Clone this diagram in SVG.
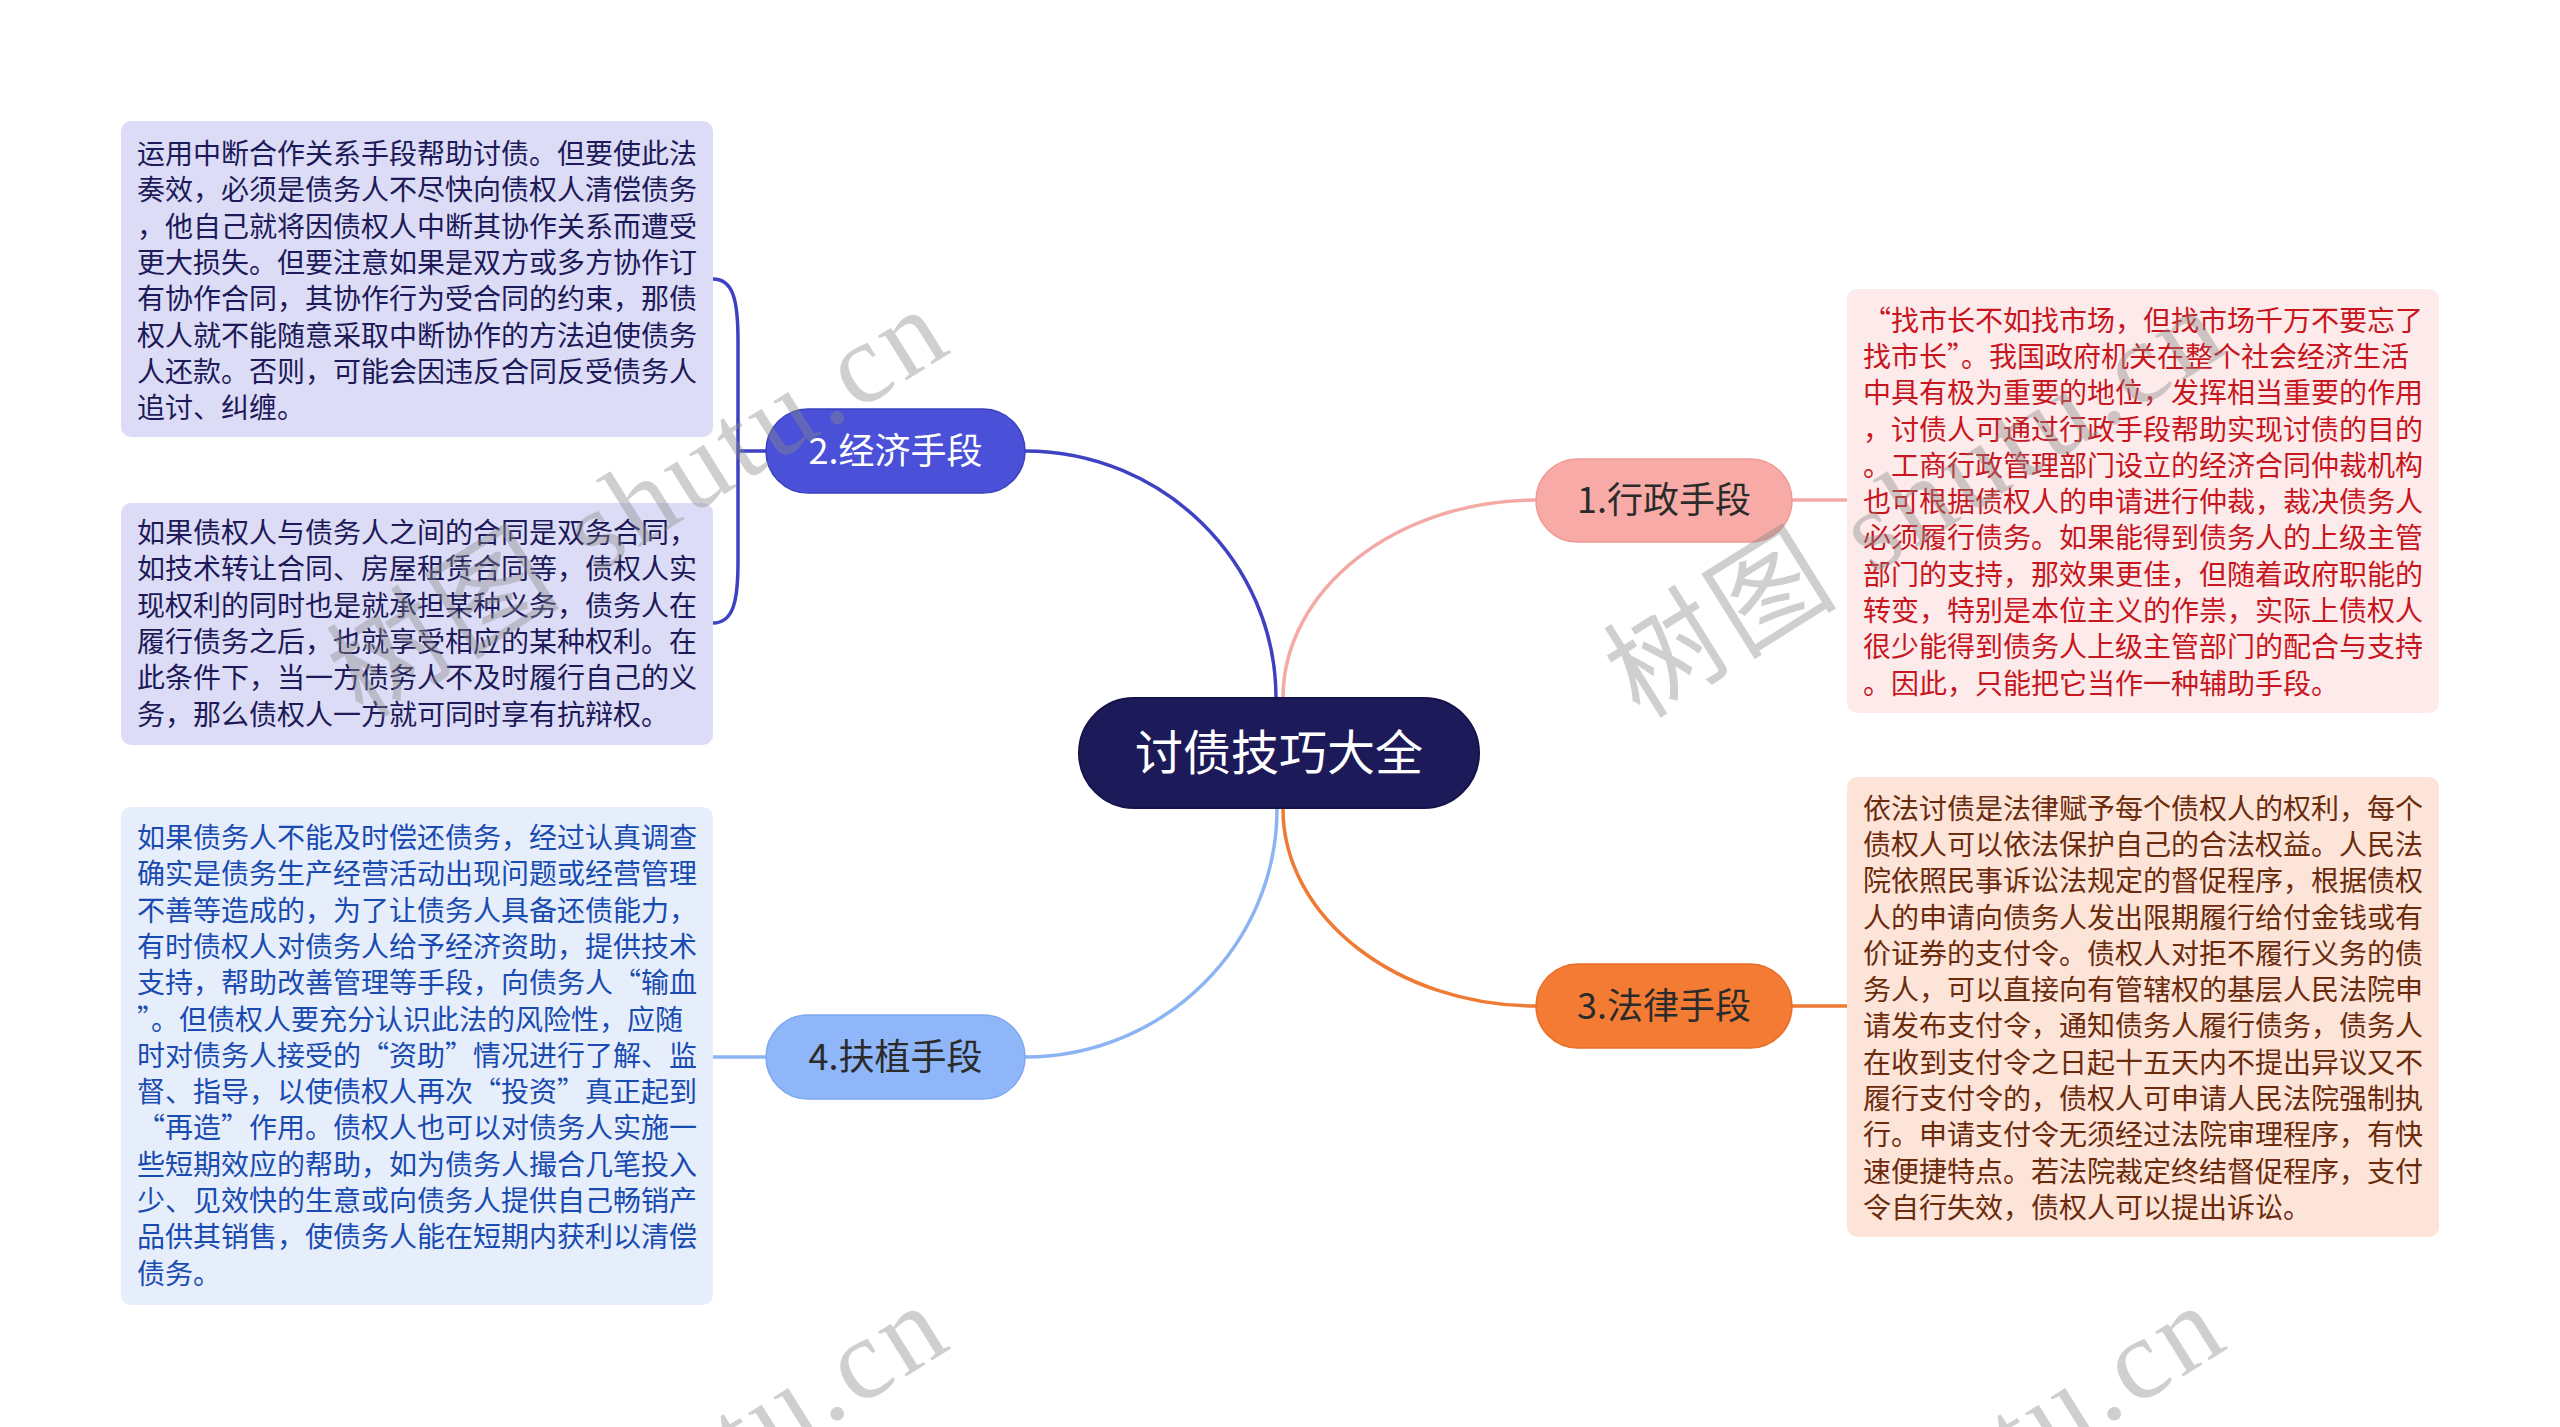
<svg xmlns="http://www.w3.org/2000/svg" width="2560" height="1427" viewBox="0 0 2560 1427">
<style>
.body{font-family:"Noto Sans CJK SC","Noto Sans",sans-serif;font-size:28px;}
.node{font-family:"Noto Sans CJK SC","Noto Sans",sans-serif;font-size:36px;text-anchor:middle;}
.conn{fill:none;stroke-width:3.5;stroke-linecap:round;}
.wm{font-family:"Liberation Serif","Noto Sans CJK SC",serif;font-size:115px;fill:#8a8a8a;opacity:0.4;letter-spacing:5px;}
</style>
<rect width="2560" height="1427" fill="#ffffff"/>
<g id="connectors">
<path class="conn" stroke="#3d41c2" d="M1025,451 C1163,451 1276,562 1276,698"/>
<path class="conn" stroke="#f4a9a4" d="M1283,698 C1283,589 1397,500 1536,500"/>
<path class="conn" stroke="#ee7a34" d="M1283,809 C1283,917 1397,1006 1536,1006"/>
<path class="conn" stroke="#8cb4f4" d="M1277,809 C1277,945 1164,1057 1025,1057"/>
<path class="conn" stroke="#3d41c2" d="M713,279 C733,279 738,300 738,340 L738,562 C738,602 733,623 713,623 M738,451 L766,451"/>
<path class="conn" stroke="#f4a9a4" d="M1792,500 L1847,500"/>
<path class="conn" stroke="#ee7a34" d="M1792,1006 L1847,1006"/>
<path class="conn" stroke="#8cb4f4" d="M713,1057 L766,1057"/>
</g>
<g id="root">
<rect x="1079" y="698" width="400" height="110" rx="55" fill="#1c1a58" stroke="#15134a" stroke-width="2"/>
<text class="node" x="1279" y="770" style="font-size:48px" fill="#ffffff">讨债技巧大全</text>
</g>
<g id="n1">
<rect x="1536" y="459" width="256" height="83" rx="41.5" fill="#f8aba6" stroke="#f09a95" stroke-width="1.5"/>
<text class="node" x="1664" y="513" fill="#2b2b2b">1.行政手段</text>
</g>
<g id="n2">
<rect x="766" y="409" width="259" height="84" rx="42" fill="#4a50d8" stroke="#3b40bf" stroke-width="1.5"/>
<text class="node" x="895.5" y="464" fill="#ffffff">2.经济手段</text>
</g>
<g id="n3">
<rect x="1536" y="964" width="256" height="84" rx="42" fill="#f47b33" stroke="#e56e28" stroke-width="1.5"/>
<text class="node" x="1664" y="1019" fill="#2b2b2b">3.法律手段</text>
</g>
<g id="n4">
<rect x="766" y="1015" width="259" height="84" rx="42" fill="#8eb6f8" stroke="#7fa8ee" stroke-width="1.5"/>
<text class="node" x="895.5" y="1070" fill="#2b2b2b">4.扶植手段</text>
</g>
<g id="leafA">
<rect x="121" y="121" width="592" height="316" rx="10" fill="#dcdcf6"/>
<text class="body" fill="#1c1a58">
<tspan x="137" y="164">运用中断合作关系手段帮助讨债。但要使此法</tspan>
<tspan x="137" y="200.3">奏效，必须是债务人不尽快向债权人清偿债务</tspan>
<tspan x="137" y="236.6">，他自己就将因债权人中断其协作关系而遭受</tspan>
<tspan x="137" y="272.9">更大损失。但要注意如果是双方或多方协作订</tspan>
<tspan x="137" y="309.2">有协作合同，其协作行为受合同的约束，那债</tspan>
<tspan x="137" y="345.5">权人就不能随意采取中断协作的方法迫使债务</tspan>
<tspan x="137" y="381.8">人还款。否则，可能会因违反合同反受债务人</tspan>
<tspan x="137" y="418.1">追讨、纠缠。</tspan>
</text>
</g>
<g id="leafB">
<rect x="121" y="503" width="592" height="242" rx="10" fill="#dcdcf6"/>
<text class="body" fill="#1c1a58">
<tspan x="137" y="543">如果债权人与债务人之间的合同是双务合同，</tspan>
<tspan x="137" y="579.3">如技术转让合同、房屋租赁合同等，债权人实</tspan>
<tspan x="137" y="615.6">现权利的同时也是就承担某种义务，债务人在</tspan>
<tspan x="137" y="651.9">履行债务之后，也就享受相应的某种权利。在</tspan>
<tspan x="137" y="688.2">此条件下，当一方债务人不及时履行自己的义</tspan>
<tspan x="137" y="724.5">务，那么债权人一方就可同时享有抗辩权。</tspan>
</text>
</g>
<g id="leafC">
<rect x="121" y="807" width="592" height="498" rx="10" fill="#e6eefc"/>
<text class="body" fill="#1a4bb0">
<tspan x="137" y="848">如果债务人不能及时偿还债务，经过认真调查</tspan>
<tspan x="137" y="884.3">确实是债务生产经营活动出现问题或经营管理</tspan>
<tspan x="137" y="920.6">不善等造成的，为了让债务人具备还债能力，</tspan>
<tspan x="137" y="956.9">有时债权人对债务人给予经济资助，提供技术</tspan>
<tspan x="137" y="993.2">支持，帮助改善管理等手段，向债务人“输血</tspan>
<tspan x="137" y="1029.5">”。但债权人要充分认识此法的风险性，应随</tspan>
<tspan x="137" y="1065.8">时对债务人接受的“资助”情况进行了解、监</tspan>
<tspan x="137" y="1102.1">督、指导，以使债权人再次“投资”真正起到</tspan>
<tspan x="137" y="1138.4">“再造”作用。债权人也可以对债务人实施一</tspan>
<tspan x="137" y="1174.7">些短期效应的帮助，如为债务人撮合几笔投入</tspan>
<tspan x="137" y="1211">少、见效快的生意或向债务人提供自己畅销产</tspan>
<tspan x="137" y="1247.3">品供其销售，使债务人能在短期内获利以清偿</tspan>
<tspan x="137" y="1283.6">债务。</tspan>
</text>
</g>
<g id="leafD">
<rect x="1847" y="289" width="592" height="424" rx="10" fill="#fdebeb"/>
<text class="body" fill="#c8161e">
<tspan x="1863" y="330.6">“找市长不如找市场，但找市场千万不要忘了</tspan>
<tspan x="1863" y="366.9">找市长”。我国政府机关在整个社会经济生活</tspan>
<tspan x="1863" y="403.2">中具有极为重要的地位，发挥相当重要的作用</tspan>
<tspan x="1863" y="439.5">，讨债人可通过行政手段帮助实现讨债的目的</tspan>
<tspan x="1863" y="475.8">。工商行政管理部门设立的经济合同仲裁机构</tspan>
<tspan x="1863" y="512.1">也可根据债权人的申请进行仲裁，裁决债务人</tspan>
<tspan x="1863" y="548.4">必须履行债务。如果能得到债务人的上级主管</tspan>
<tspan x="1863" y="584.7">部门的支持，那效果更佳，但随着政府职能的</tspan>
<tspan x="1863" y="621">转变，特别是本位主义的作祟，实际上债权人</tspan>
<tspan x="1863" y="657.3">很少能得到债务人上级主管部门的配合与支持</tspan>
<tspan x="1863" y="693.6">。因此，只能把它当作一种辅助手段。</tspan>
</text>
</g>
<g id="leafE">
<rect x="1847" y="777" width="592" height="460" rx="10" fill="#fce4d8"/>
<text class="body" fill="#6b2b0c">
<tspan x="1863" y="818.6">依法讨债是法律赋予每个债权人的权利，每个</tspan>
<tspan x="1863" y="854.9">债权人可以依法保护自己的合法权益。人民法</tspan>
<tspan x="1863" y="891.2">院依照民事诉讼法规定的督促程序，根据债权</tspan>
<tspan x="1863" y="927.5">人的申请向债务人发出限期履行给付金钱或有</tspan>
<tspan x="1863" y="963.8">价证券的支付令。债权人对拒不履行义务的债</tspan>
<tspan x="1863" y="1000.1">务人，可以直接向有管辖权的基层人民法院申</tspan>
<tspan x="1863" y="1036.4">请发布支付令，通知债务人履行债务，债务人</tspan>
<tspan x="1863" y="1072.7">在收到支付令之日起十五天内不提出异议又不</tspan>
<tspan x="1863" y="1109">履行支付令的，债权人可申请人民法院强制执</tspan>
<tspan x="1863" y="1145.3">行。申请支付令无须经过法院审理程序，有快</tspan>
<tspan x="1863" y="1181.6">速便捷特点。若法院裁定终结督促程序，支付</tspan>
<tspan x="1863" y="1217.9">令自行失效，债权人可以提出诉讼。</tspan>
</text>
</g>
<g id="watermarks">
<text class="wm" transform="translate(363,720) rotate(-32)">树图 shutu.cn</text>
<text class="wm" transform="translate(1640,720) rotate(-32)">树图 shutu.cn</text>
<text class="wm" transform="translate(363,1716) rotate(-32)">树图 shutu.cn</text>
<text class="wm" transform="translate(1640,1716) rotate(-32)">树图 shutu.cn</text>
</g>
</svg>
